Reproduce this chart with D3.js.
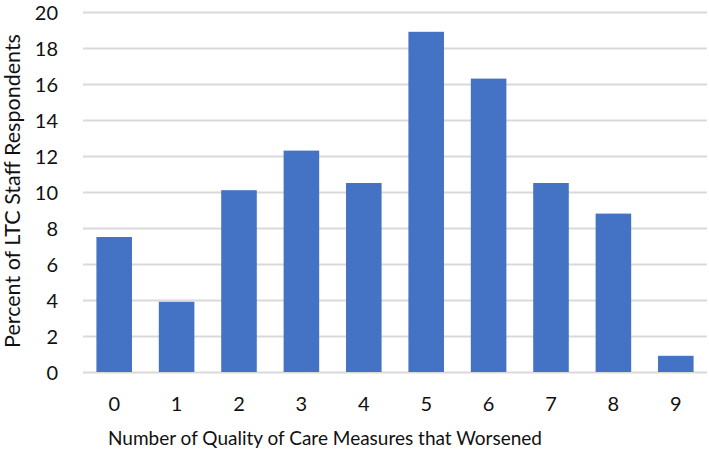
<!DOCTYPE html>
<html>
<head>
<meta charset="utf-8">
<script src="https://cdn.jsdelivr.net/npm/d3@7"></script>
<style>
  body { margin: 0; background: #fff; }
  text { font-family: Lato, "Open Sans", sans-serif; fill: #111; }
</style>
</head>
<body>
<div id="chart"></div>
<script>
// counts of worsened measures and share of respondents (%)
var categories = ["0", "1", "2", "3", "4", "5", "6", "7", "8", "9"];
var percents = [7.5, 3.9, 10.1, 12.3, 10.5, 18.9, 16.3, 10.5, 8.8, 0.9];
var yTicks = [0, 2, 4, 6, 8, 10, 12, 14, 16, 18, 20];

var width = 709, height = 456;
var margin = {top: 12, right: 2, bottom: 84, left: 83};

var svg = d3.select("#chart")
    .append("svg")
    .attr("width", width)
    .attr("height", height);

var x = d3.scaleBand()
    .domain(categories)
    .range([margin.left, width - margin.right])
    .paddingInner(0.43)
    .paddingOuter(0.215);

var y = d3.scaleLinear()
    .domain([0, 20])
    .range([height - margin.bottom, margin.top]);

// gridlines
svg.append("g")
    .selectAll("line")
    .data(yTicks)
    .enter()
    .append("line")
    .attr("x1", margin.left)
    .attr("x2", width - margin.right)
    .attr("y1", function (d) { return Math.round(y(d)) + 0.5; })
    .attr("y2", function (d) { return Math.round(y(d)) + 0.5; })
    .style("stroke", "#d9d9d9")
    .style("stroke-width", 2);

// bars
svg.append("g")
    .selectAll("rect")
    .data(percents)
    .enter()
    .append("rect")
    .attr("x", function (d, i) { return x(categories[i]); })
    .attr("y", function (d) { return y(d); })
    .attr("width", x.bandwidth())
    .attr("height", function (d) { return y(0) - y(d); })
    .style("fill", "#4472c4");

// y axis labels
var yAxis = d3.axisLeft(y).tickValues(yTicks).tickSize(0).tickPadding(0);
var gy = svg.append("g")
    .attr("transform", "translate(58,0)")
    .call(yAxis);
gy.select(".domain").remove();
gy.selectAll("text").style("font-size", "20px").attr("dy", "0.36em");

// x axis labels
var xAxis = d3.axisBottom(x).tickSize(0).tickPadding(0);
var gx = svg.append("g")
    .attr("transform", "translate(0," + (y(0) + 25) + ")")
    .call(xAxis);
gx.select(".domain").remove();
gx.selectAll("text").style("font-size", "20px");

// axis titles
svg.append("text")
    .attr("x", 325)
    .attr("y", 445)
    .attr("text-anchor", "middle")
    .style("font-size", "19px")
    .text("Number of Quality of Care Measures that Worsened");

svg.append("text")
    .attr("transform", "translate(20,191) rotate(-90)")
    .attr("text-anchor", "middle")
    .style("font-size", "21.5px")
    .text("Percent of LTC Staff Respondents");
</script>
</body>
</html>
